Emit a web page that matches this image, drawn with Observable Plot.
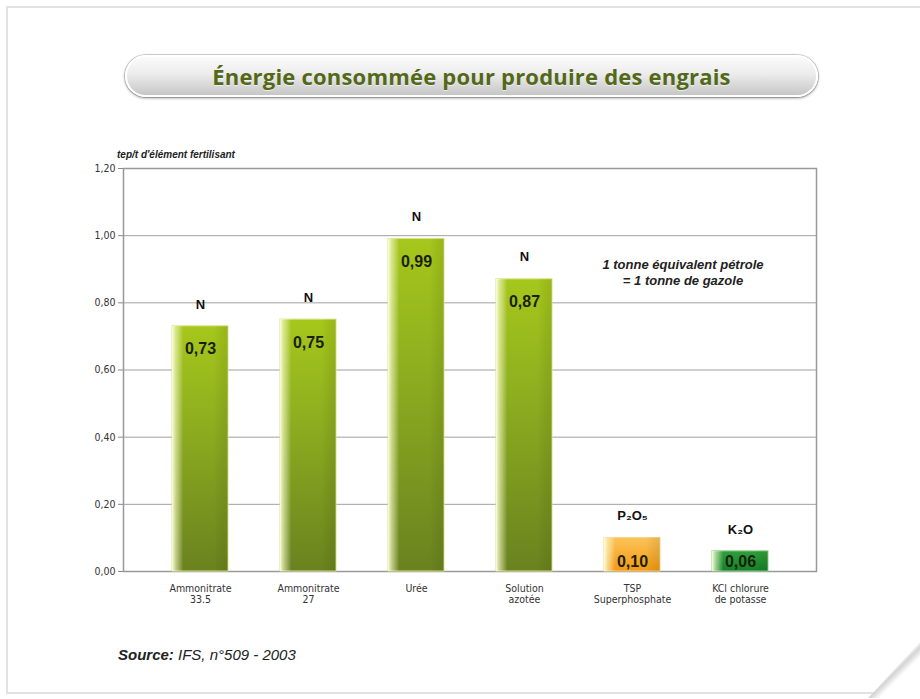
<!DOCTYPE html>
<html><head><meta charset="utf-8">
<script src="https://cdn.jsdelivr.net/npm/d3@7"></script>
<script src="https://cdn.jsdelivr.net/npm/@observablehq/plot@0.6"></script>
<style>
html,body{margin:0;padding:0;background:#fff;}
#page{position:relative;width:920px;height:699px;overflow:hidden;background:#fff;font-family:"Liberation Sans",Arial,sans-serif;}
#card{position:absolute;left:6px;top:6px;width:920px;height:684px;border:2px solid #e2e2e2;border-right:none;box-sizing:content-box;background:#fff;}
#pill{position:absolute;left:125px;top:55px;width:693px;height:42px;border-radius:22px;background:linear-gradient(#fbfbfb 0%,#ececec 45%,#c6c6c6 100%);border:2px solid #fff;box-shadow:0 1px 3px rgba(0,0,0,0.45),0 0 0 1px #d8d8d8;box-sizing:border-box;}
#title{position:absolute;left:125px;top:55px;width:693px;height:42px;line-height:42px;text-align:center;font-family:"Open Sans",sans-serif;font-weight:700;font-size:22px;color:#536819;letter-spacing:0.2px;text-shadow:0 1px 0 rgba(255,255,255,0.6);}
#ylab{position:absolute;left:117px;top:149px;font-size:10px;font-weight:bold;font-style:italic;color:#222;}
#note{position:absolute;left:568px;top:257px;width:230px;text-align:center;font-size:13px;font-weight:bold;font-style:italic;color:#222;line-height:16px;}
#source{position:absolute;left:118px;top:646px;font-size:15px;font-style:italic;color:#222;}
#source b{font-weight:bold;}
#chart{position:absolute;left:0;top:140px;}
#curl{position:absolute;left:868px;top:640px;width:54px;height:58px;background:linear-gradient(135deg,#ffffff 0%,#f6f6f6 48%,#d4d4d4 53%,#fff 62%);clip-path:polygon(100% 0,100% 100%,0 100%);}
</style></head>
<body>
<div id="page">
  <div id="card"></div>
  <div id="pill"></div>
  <div id="title">Énergie consommée pour produire des engrais</div>
  <div id="ylab">tep/t d'élément fertilisant</div>
  <div id="chart"></div>
  <div id="note">1 tonne équivalent pétrole<br>= 1 tonne de gazole</div>
  <div id="source"><b>Source:</b> IFS, n°509 - 2003</div>
  <div id="curl"></div>
</div>
<script>
const categories = ["Ammonitrate\n33.5", "Ammonitrate\n27", "Urée", "Solution\nazotée", "TSP\nSuperphosphate", "KCl chlorure\nde potasse"];
const values = [0.73, 0.75, 0.99, 0.87, 0.10, 0.06];
const elements = ["N", "N", "N", "N", "P₂O₅", "K₂O"];
const yTicks = [0, 0.2, 0.4, 0.6, 0.8, 1.0, 1.2];

const data = categories.map((c, i) => ({cat: c, value: values[i], element: elements[i]}));
const fmt = v => v.toFixed(2).replace(".", ",");
const narrow = "'DejaVu Sans',sans-serif";

function defs() {
  const d = d3.create("svg:defs");
  function grad(id, horizontal, stops) {
    const g = d.append("linearGradient").attr("id", id)
      .attr("x1", 0).attr("y1", 0).attr("x2", horizontal ? 1 : 0).attr("y2", horizontal ? 0 : 1);
    stops.forEach(([o, c, a]) => g.append("stop").attr("offset", o).attr("stop-color", c).attr("stop-opacity", a ?? 1));
  }
  grad("gGreen", false, [[0, "#a6c71b"], [0.35, "#91b11f"], [1, "#6a821f"]]);
  grad("gOrange", false, [[0, "#fcc45a"], [1, "#f3990f"]]);
  grad("gKcl", false, [[0, "#2fa03c"], [1, "#148028"]]);
  grad("gShine", true, [[0, "#ffffe8", 0.95], [0.07, "#f8fbc8", 0.6], [0.2, "#ffffff", 0], [0.75, "#000000", 0], [1, "#3a4200", 0.12]]);
  return d.node();
}

const green = data.filter(d => d.element === "N");
const big = data.filter(d => d.value >= 0.5);
const small = data.filter(d => d.value < 0.5);
const boldFont = "'Liberation Sans',Arial,sans-serif";

const chart = Plot.plot({
  width: 920,
  height: 490,
  marginLeft: 123,
  marginRight: 104,
  marginTop: 28,
  marginBottom: 59,
  style: {fontFamily: narrow, fontSize: "10.5px", color: "#333", background: "transparent", fontStretch: "condensed"},
  x: {domain: categories, paddingInner: 0.486, paddingOuter: 0.422, label: null},
  y: {domain: [0, 1.2], label: null},
  marks: [
    defs,
    Plot.gridY(yTicks, {stroke: "#a0a0a0", strokeOpacity: 1, strokeWidth: 1}),
    Plot.frame({stroke: "#999", strokeWidth: 1.5}),
    Plot.barY(green, {x: "cat", y: "value", fill: "url(#gGreen)", stroke: "#d9e28c", strokeWidth: 1}),
    Plot.barY(data.filter(d => d.element === "P₂O₅"), {x: "cat", y: "value", fill: "url(#gOrange)", stroke: "#f8d48a", strokeWidth: 1}),
    Plot.barY(data.filter(d => d.element === "K₂O"), {x: "cat", y: "value", fill: "url(#gKcl)", stroke: "#8fd08f", strokeWidth: 1}),
    Plot.barY(data, {x: "cat", y: "value", fill: "url(#gShine)"}),
    Plot.ruleX([0], {stroke: "#888", strokeWidth: 2}),
    Plot.axisY(yTicks, {tickFormat: fmt, tickSize: 5, tickPadding: 3, stroke: "#888", fontSize: 10.5, fill: "#333", label: null}),
    Plot.axisX({tickSize: 0, tickPadding: 12, fontSize: 10.5, fill: "#333", lineHeight: 1.1, label: null}),
    Plot.text(big, {x: "cat", y: "value", text: d => fmt(d.value), dy: 23, fontSize: 16, fontWeight: "bold", fill: "#1a1f0c", fontFamily: boldFont}),
    Plot.text(small, {x: "cat", y: 0, text: d => fmt(d.value), dy: -10, fontSize: 16, fontWeight: "bold", fill: "#1a1f0c", fontFamily: boldFont}),
    Plot.text(data, {x: "cat", y: "value", text: "element", dy: -22, fontSize: 13, fontWeight: "bold", fill: "#111", fontFamily: boldFont})
  ]
});
document.getElementById("chart").appendChild(chart);
</script>
</body></html>
